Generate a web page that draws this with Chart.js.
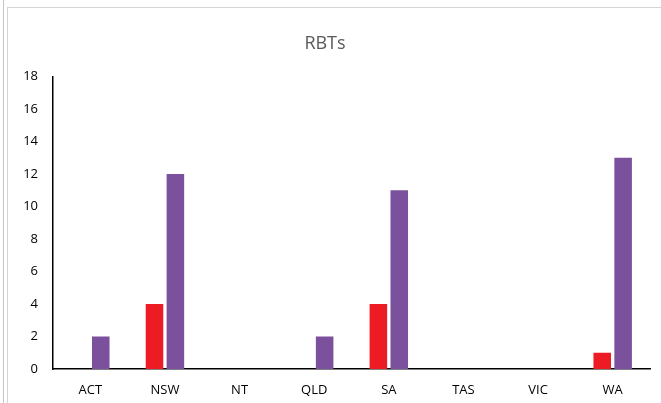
<!DOCTYPE html>
<html>
<head>
<meta charset="utf-8">
<script src="https://cdn.jsdelivr.net/npm/chart.js@4.4.1/dist/chart.umd.min.js"></script>
<style>
  html, body { margin: 0; padding: 0; background: #fff; }
  #wrap { position: relative; width: 661px; height: 403px; overflow: hidden; }
  #edge { position: absolute; left: 3px; top: 0; width: 1px; height: 403px; background: #c6c6c6; }
  #frame { position: absolute; left: 7px; top: 7px; width: 700px; height: 500px; border-left: 1px solid #d4d4d4; border-top: 1px solid #d4d4d4; }
  canvas { position: absolute; left: 0; top: 0; }
</style>
</head>
<body>
<div id="wrap">
  <div id="edge"></div>
  <div id="frame"></div>
  <canvas id="c" width="661" height="403"></canvas>
</div>
<script>
const categories = ["ACT", "NSW", "NT", "QLD", "SA", "TAS", "VIC", "WA"];
const redSeries = [0, 4, 0, 0, 4, 0, 0, 1];
const purpleSeries = [2, 12, 0, 2, 11, 0, 0, 13];
const chartTitle = "RBTs";

const FONT = "'Open Sans', 'Liberation Sans', sans-serif";

new Chart(document.getElementById('c'), {
  type: 'bar',
  data: {
    labels: categories,
    datasets: [
      { label: 'Series 1', data: redSeries, backgroundColor: '#ED1C24', borderWidth: 0,
        categoryPercentage: 0.56, barPercentage: 0.84 },
      { label: 'Series 2', data: purpleSeries, backgroundColor: '#7B519D', borderWidth: 0,
        categoryPercentage: 0.56, barPercentage: 0.84 }
    ]
  },
  options: {
    responsive: false,
    animation: false,
    layout: { padding: { left: 0, right: 11, top: 0, bottom: 0 } },
    plugins: {
      legend: { display: false },
      tooltip: { enabled: false },
      title: {
        display: true,
        text: chartTitle,
        color: '#595959',
        font: { family: FONT, size: 18, weight: 'normal' },
        padding: { top: 33, bottom: 22 }
      }
    },
    scales: {
      x: {
        grid: { display: false },
        border: { display: true, color: '#000', width: 1.5 },
        ticks: { color: '#000', font: { family: FONT, size: 13 }, padding: 5 },
        afterFit: (s) => { s.height = 34; }
      },
      y: {
        min: 0, max: 18,
        grid: { display: false },
        border: { display: true, color: '#000', width: 1.5 },
        ticks: { stepSize: 2, color: '#000', font: { family: FONT, size: 13 }, padding: 7 },
        afterFit: (s) => { s.width = 53; }
      }
    }
  }
});
</script>
</body>
</html>
